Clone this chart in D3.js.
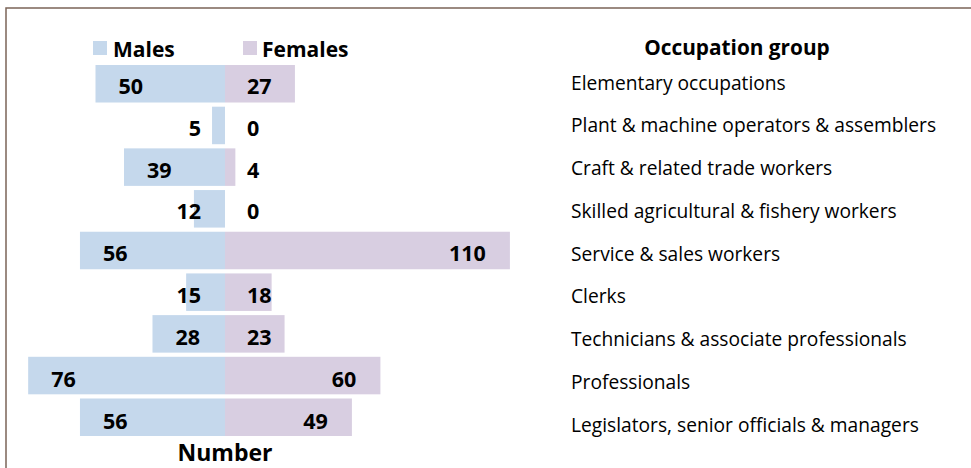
<!DOCTYPE html>
<html><head><meta charset="utf-8">
<script src="https://cdn.jsdelivr.net/npm/d3@7"></script>
<style>body{margin:0;background:#fff}svg{display:block}</style>
</head><body>
<svg id="c" width="971" height="468"></svg>
<script>
const categories = ["Elementary occupations","Plant & machine operators & assemblers","Craft & related trade workers","Skilled agricultural & fishery workers","Service & sales workers","Clerks","Technicians & associate professionals","Professionals","Legislators, senior officials & managers"];
const males   = [50, 5, 39, 12, 56, 15, 28, 76, 56];
const females = [27, 0, 4, 0, 110, 18, 23, 60, 49];
const seriesNames = ["Males","Females"];

const svg = d3.select("#c");
const MC = "#c5d8ec", FC = "#d8cee1";
const cx = 225;
svg.append("rect").attr("x",6).attr("y",8).attr("width",1000).attr("height",500)
  .attr("fill","#fff").attr("stroke","#7b6458").attr("stroke-width",1.5);

const xM = d3.scaleLinear().domain([0,100]).range([cx, cx-259]);
const xF = d3.scaleLinear().domain([0,100]).range([cx, cx+259]);
const y = d3.scaleBand().domain(categories).range([65,436]).paddingInner(0.1).paddingOuter(0);
const yLab = d3.scalePoint().domain(categories).range([82,424]);

const font = "'Open Sans', sans-serif";
const rows = svg.append("g").selectAll("g").data(categories).join("g");
rows.append("rect").attr("x",(d,i)=>xM(males[i])).attr("y",d=>y(d))
  .attr("width",(d,i)=>xM(0)-xM(males[i])).attr("height",y.bandwidth()).attr("fill",MC);
rows.append("rect").attr("x",xF(0)).attr("y",d=>y(d))
  .attr("width",(d,i)=>xF(females[i])-xF(0)).attr("height",y.bandwidth()).attr("fill",FC);

const lblStyle = s => s.attr("font-family",font).attr("font-weight","bold").attr("font-size",21.5).attr("fill","#000");
// male labels
rows.append("text").call(lblStyle).text((d,i)=>males[i])
  .attr("y",(d,i)=>y(d)+y.bandwidth()/2+1.5+i*0.2).attr("dominant-baseline","central")
  .each(function(d,i){
    const w = this.getComputedTextLength();
    const start = Math.min(xM(males[i])+23, 201-w);
    d3.select(this).attr("x",start);
  });
// female labels
rows.append("text").call(lblStyle).text((d,i)=>females[i])
  .attr("y",(d,i)=>y(d)+y.bandwidth()/2+1.5+i*0.2).attr("dominant-baseline","central")
  .each(function(d,i){
    const w = this.getComputedTextLength();
    const end = Math.max(xF(females[i])-24, 247+w);
    d3.select(this).attr("x",end).attr("text-anchor","end");
  });
// category labels
rows.append("text").text(d=>d).attr("x",571).attr("y",d=>yLab(d))
  .attr("dominant-baseline","central").attr("font-family",font).attr("font-size",19.2).attr("fill","#000");

svg.append("text").text("Occupation group").attr("x",737).attr("y",47).attr("text-anchor","middle")
  .attr("dominant-baseline","central").attr("font-family",font).attr("font-weight","bold").attr("font-size",20.8).attr("fill","#000");
svg.append("text").text("Number").attr("x",cx).attr("y",452).attr("text-anchor","middle")
  .attr("dominant-baseline","central").attr("font-family",font).attr("font-weight","bold").attr("font-size",23).attr("fill","#000");

// legend
const leg = svg.append("g").selectAll("g").data(seriesNames).join("g")
  .attr("transform",(d,i)=>`translate(${i?243:93},41)`);
leg.append("rect").attr("width",14).attr("height",14).attr("fill",(d,i)=>i?FC:MC);
leg.append("text").text(d=>d).attr("x",(d,i)=>i?19:20).attr("y",8).attr("dominant-baseline","central")
  .attr("font-family",font).attr("font-weight","bold").attr("font-size",21).attr("fill","#000");
</script>
</body></html>
